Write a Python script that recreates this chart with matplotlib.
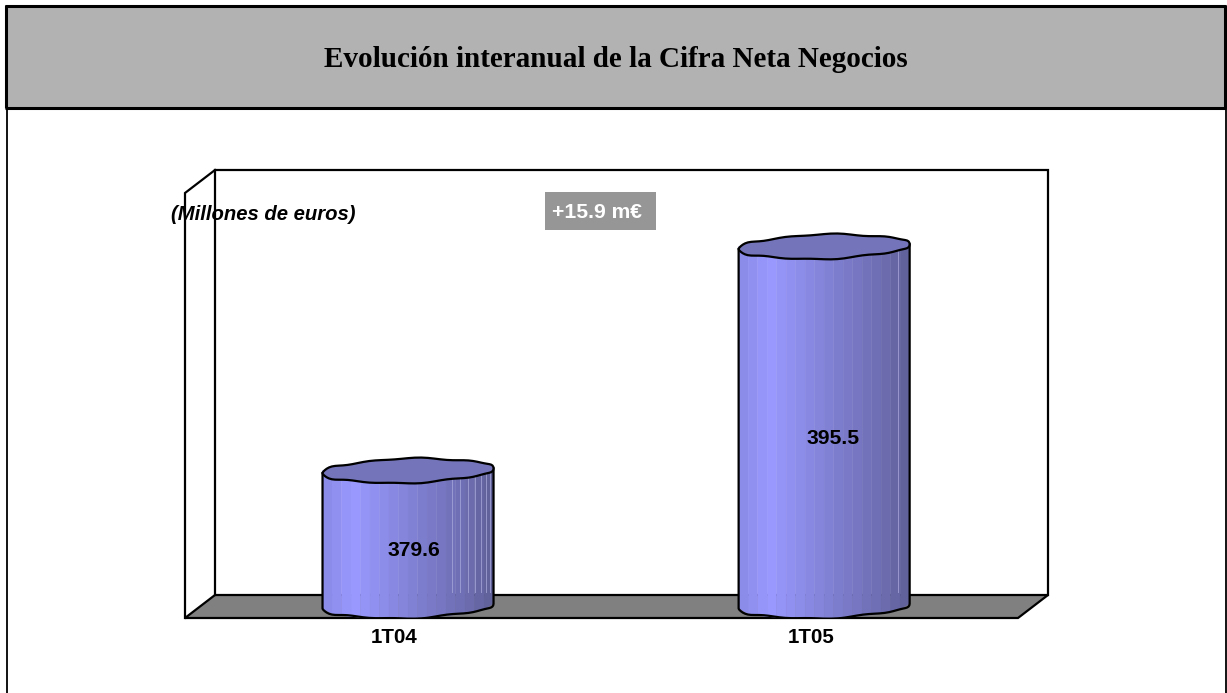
import numpy as np
import matplotlib
matplotlib.use("Agg")
import matplotlib.pyplot as plt
from matplotlib.patches import Polygon, Rectangle
from matplotlib.colors import LinearSegmentedColormap

title = "Evolución interanual de la Cifra Neta Negocios"
unit_label = "(Millones de euros)"
delta_label = "+15.9 m€"
categories = ["1T04", "1T05"]
values = [379.6, 395.5]

W, H = 1227, 693
fig = plt.figure(figsize=(W / 100, H / 100), dpi=100, facecolor="white")

# page furniture in pixel coordinates
bg = fig.add_axes([0, 0, 1, 1])
bg.set_xlim(0, W)
bg.set_ylim(H, 0)
bg.axis("off")
bg.add_patch(Rectangle((6, 6), 1219, 102, fc="#b2b2b2", ec="none"))
for xs, ys, lw in [([6.2, 6.2], [5, 108], 2.2), ([1224.5, 1224.5], [5, 108], 2.2),
                   ([6.5, 6.5], [108, 693], 1.3), ([1226, 1226], [108, 693], 1.3),
                   ([5, 1226], [6.2, 6.2], 2.2), ([5, 1226], [108.2, 108.2], 2.2)]:
    bg.plot(xs, ys, color="black", lw=lw, solid_capstyle="butt")
bg.text(615.5, 59.5, title, ha="center", va="center", fontsize=21,
        fontweight="bold", family="Liberation Serif", color="black")

# 3D box
bg.add_patch(Polygon([(185, 618), (215, 595), (1048, 595), (1018, 618)],
                     closed=True, fc="#808080", ec="black", lw=1.6))
wall = dict(color="black", lw=1.6, solid_joinstyle="miter")
bg.plot([215, 215, 1048, 1048], [595, 170, 170, 595], **wall)
bg.plot([185, 185, 215], [618, 193, 170], **wall)

# chart axes: data scales mapped on the box
px_l, px_r, px_t, px_b = 185, 1048, 170, 618
ax = fig.add_axes([px_l / W, 1 - px_b / H, (px_r - px_l) / W, (px_b - px_t) / H])
ax.patch.set_alpha(0)
ax.axis("off")
ax.set_xlim(-0.536, 1.538)
ax.set_ylim(369.15, 400.94)

half_w = 0.2055          # cylinder half width in x units
lid_h = 0.85             # lid half height in y units
tilt = 0.17              # right end of a lid sits a little higher
cmap = LinearSegmentedColormap.from_list(
    "cyl", [(0, "#8888e6"), (0.18, "#9999ff"), (0.55, "#7f7fd2"),
            (0.85, "#6c6cb0"), (1, "#5f5f98")])
base = 370.0
light_lines = [[0.76, 0.805, 0.85, 0.89, 0.925, 0.955, 0.98], [0.93]]
value_dx = [5.5, 8.5]    # label offsets in pixels
label_dx = [-14, -13.5]


def ring_y(x_rel, cy, t):
    return cy + lid_h * (np.sin(t) + 0.05 * np.sin(5 * t) + 0.045 * np.sin(10 * t)) + tilt * x_rel


for i, v in enumerate(values):
    n_bands = 18
    edges = np.linspace(i - half_w, i + half_w, n_bands + 1)
    for k in range(n_bands):
        xa, xb = edges[k], edges[k + 1]
        ua = np.clip((xa - i) / half_w, -1, 1)
        ub = np.clip((xb - i) / half_w, -1, 1)
        ya = base - lid_h * np.sqrt(1 - ua ** 2) + tilt * ua
        yb = base - lid_h * np.sqrt(1 - ub ** 2) + tilt * ub
        col = cmap((k + 0.5) / n_bands)
        ax.add_patch(Polygon([(xa, ya), (xb, yb), (xb, v), (xa, v)], closed=True,
                             fc=col, ec=col, lw=0.3, zorder=2))
    # faint vertical seams towards the right of the body
    for f in light_lines[i]:
        ax.plot([i - half_w + 2 * half_w * f] * 2, [base + 1.0, v], color="#a5a5d8",
                lw=0.7, alpha=0.8, zorder=2.5)
    # body outline
    tb = np.linspace(np.pi, 2 * np.pi, 41)
    cb = np.cos(tb)
    ax.plot(np.r_[i - half_w, i + half_w * cb, i + half_w],
            np.r_[v - tilt, ring_y(cb, base, tb), v + tilt],
            color="black", lw=1.6, zorder=3, solid_joinstyle="round")
    # top lid
    t = np.linspace(0, 2 * np.pi, 81)
    c = np.cos(t)
    ax.fill(i + half_w * c, ring_y(c, v, t), fc="#7474ba", ec="black", lw=1.6, zorder=4)
    ax.annotate(f"{v:.1f}", (i, (v + base) / 2), xytext=(value_dx[i], -12),
                textcoords="offset pixels", ha="center", va="center",
                fontsize=15.2, fontweight="bold", family="Liberation Sans", zorder=5)

# category labels
for i, c_ in enumerate(categories):
    ax.annotate(c_, (i, 369.15), xytext=(label_dx[i], -19.5), textcoords="offset pixels",
                ha="center", va="center", fontsize=14.8, fontweight="bold",
                family="Liberation Sans")

bg.text(263.5, 214, unit_label, ha="center", va="center", fontsize=14.6, style="italic",
        fontweight="bold", family="Liberation Sans", zorder=10)
bg.add_patch(Rectangle((545, 192), 111, 38, fc="#969696", ec="none"))
bg.text(597, 212.5, delta_label, ha="center", va="center", fontsize=15.2, color="white",
        fontweight="bold", family="Liberation Sans")

fig.savefig("out.png", dpi=100)
